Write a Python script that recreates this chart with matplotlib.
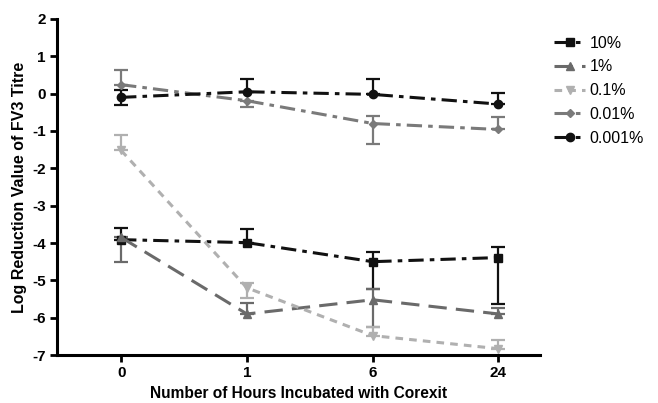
import matplotlib
matplotlib.use("Agg")
import matplotlib.pyplot as plt
import numpy as np

plt.rcParams['font.family'] = ['Liberation Sans', 'DejaVu Sans']
plt.rcParams['axes.unicode_minus'] = False

hours = ["0", "1", "6", "24"]
labels = ["10%", "1%", "0.1%", "0.01%", "0.001%"]

y_10 = [-3.91, -3.99, -4.50, -4.39]
lo_10 = [0.0, 0.0, 0.72, 1.25]
hi_10 = [0.32, 0.37, 0.27, 0.27]

y_1 = [-3.85, -5.90, -5.52, -5.90]
lo_1 = [0.65, 0.0, 0.73, 0.0]
hi_1 = [0.0, 0.29, 0.30, 0.16]

y_01 = [-1.52, -5.20, -6.48, -6.83]
lo_01 = [0.0, 0.27, 0.0, 0.0]
hi_01 = [0.40, 0.13, 0.24, 0.24]

y_001 = [0.24, -0.19, -0.80, -0.96]
lo_001 = [0.0, 0.16, 0.54, 0.0]
hi_001 = [0.38, 0.0, 0.21, 0.34]

y_0001 = [-0.10, 0.05, -0.02, -0.28]
lo_0001 = [0.20, 0.0, 0.0, 0.0]
hi_0001 = [0.20, 0.33, 0.40, 0.31]

series = [
    (y_10, lo_10, hi_10, dict(color='#111111', marker='s', ms=6, lw=2.2), (5, 2, 1.5, 2)),
    (y_1, lo_1, hi_1, dict(color='#6a6a6a', marker='^', ms=6, lw=2.2), (6, 3)),
    (y_01, lo_01, hi_01, dict(color='#b0b0b0', marker='v', ms=6, lw=2.2), (2.5, 2)),
    (y_001, lo_001, hi_001, dict(color='#7a7a7a', marker='D', ms=4, lw=2.2), (5, 2, 1.5, 2)),
    (y_0001, lo_0001, hi_0001, dict(color='#111111', marker='o', ms=6, lw=2.2), (5, 2, 1.5, 2)),
]

fig = plt.figure(figsize=(6.58, 4.03), dpi=100)
ax = fig.add_axes([0.0866, 0.119, 0.734, 0.834])
x = np.arange(len(hours))
handles = []
for (yv, lo, hi, st, dashes), lab in zip(series, labels):
    eb = ax.errorbar(x, yv, yerr=[lo, hi], capsize=5, capthick=1.6,
                     elinewidth=1.6, **st)
    eb.lines[0].set_dashes(dashes)
    eb.lines[0].set_label(lab)
    handles.append(eb.lines[0])

ax.set_xlim(-0.51, 3.33)
ax.set_ylim(-7, 2)
ax.set_xticks(x)
ax.set_xticklabels(hours)
ax.set_yticks(np.arange(-7, 3, 1))
for s in ['top', 'right']:
    ax.spines[s].set_visible(False)
for s in ['left', 'bottom']:
    ax.spines[s].set_linewidth(2.2)
ax.tick_params(width=2, length=5, labelsize=11, pad=3)
for t in ax.get_xticklabels() + ax.get_yticklabels():
    t.set_fontweight('bold')
ax.set_xlabel("Number of Hours Incubated with Corexit", fontsize=11.2, fontweight='bold', labelpad=4)
ax.set_ylabel("Log Reduction Value of FV3 Titre", fontsize=11.5, fontweight='bold', labelpad=4)

leg = ax.legend(handles=handles, loc='upper left', bbox_to_anchor=(1.0, 0.993), frameon=False,
                fontsize=11.5, handlelength=1.9, handletextpad=0.3, labelspacing=0.55)

fig.savefig("out.png", dpi=100)
